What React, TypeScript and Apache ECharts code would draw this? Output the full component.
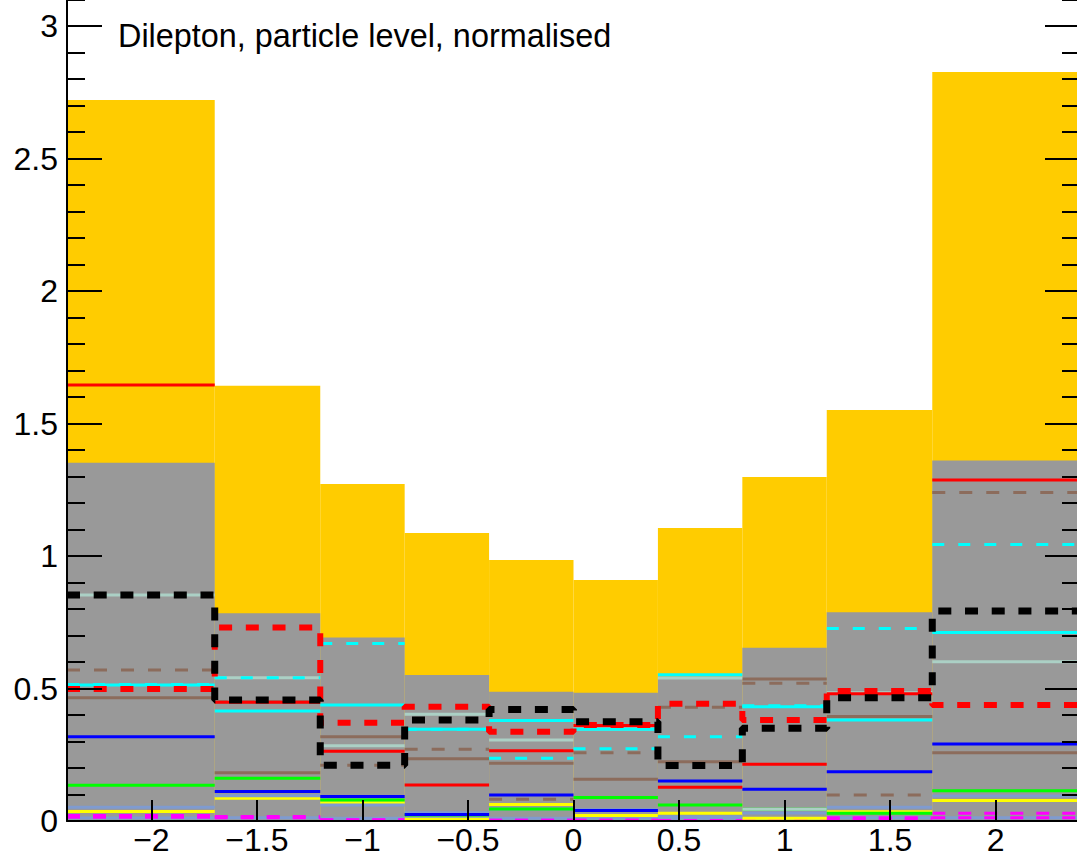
import React, { useEffect, useRef } from "react";
import * as echarts from "echarts";

// Bin edges (x)
const edges = [-2.4, -1.7, -1.2, -0.8, -0.4, 0, 0.4, 0.8, 1.2, 1.7, 2.4];

// Filled histograms
const orangeTotal = [2.721, 1.642, 1.272, 1.087, 0.985, 0.909, 1.106, 1.298, 1.551, 2.826];
const grayBand = [1.352, 0.784, 0.692, 0.551, 0.488, 0.484, 0.545, 0.654, 0.788, 1.36];

// Line histograms (one value per bin)
const redSolid = [1.645, 0.448, 0.263, 0.136, 0.265, 0.36, 0.127, 0.214, 0.48, 1.287];
const cyanSolid = [0.513, 0.415, 0.438, 0.346, 0.379, 0.346, 0.552, 0.431, 0.381, 0.711];
const cyanDashed = [0.515, 0.541, 0.67, 0.346, 0.237, 0.273, 0.318, 0.435, 0.726, 1.043];
const paleSolid = [0.853, 0.541, 0.284, 0.403, 0.306, 0.346, 0.54, 0.044, 0.484, 0.601];
const brownSolid = [0.465, 0.182, 0.318, 0.235, 0.218, 0.158, 0.224, 0.536, 0.394, 0.258];
const brownDashed = [0.57, 0.45, 0.21, 0.271, 0.082, 0.258, 0.429, 0.52, 0.098, 1.24];
const blueSolid = [0.318, 0.111, 0.092, 0.025, 0.098, 0.04, 0.151, 0.12, 0.186, 0.291];
const greenSolid = [0.135, 0.161, 0.079, 0.023, 0.045, 0.089, 0.06, 0.044, 0.029, 0.114];
const steelSolid = [0.052, 0.095, 0.06, 0.031, 0.045, 0.042, 0.016, 0.03, 0.052, 0.094];
const steelLow = [0.011, 0.012, 0.01, 0.01, 0.01, 0.01, 0.01, 0.01, 0.012, 0.012];
const yellowSolid = [0.036, 0.086, 0.069, 0.007, 0.062, 0.021, 0.029, 0.01, 0.035, 0.077];
const magentaDashedA = [0.021, 0.017, 0.005, 0.003, 0.003, 0.003, 0.002, 0.003, 0.012, 0.029];
const magentaDashedB = [0.014, 0.012, 0.004, 0.003, 0.003, 0.003, 0.002, 0.003, 0.008, 0.012];
const redDashed = [0.498, 0.73, 0.371, 0.431, 0.337, 0.362, 0.442, 0.381, 0.491, 0.438];
const blackDashed = [0.853, 0.457, 0.21, 0.381, 0.421, 0.375, 0.209, 0.35, 0.465, 0.792];

// Axis settings
const yMin = 0;
const yMax = 3.2;
const yInterval = 0.5;
const xMin = -2.4;
const xMax = 2.4;
const titleText = "Dilepton, particle level, normalised";

const FONT = "'Liberation Sans', Arial, Helvetica, sans-serif";

// The frame extends slightly beyond the visible picture (top and right)
const OFFSET_TOP = 27;
const CHART_W = 1080;
const CHART_H = 859 + OFFSET_TOP;

function rectSeries(name: string, values: number[], color: string) {
  return {
    type: "custom",
    name,
    silent: true,
    encode: { x: [0, 1], y: 2 },
    data: values.map((v, i) => [edges[i], edges[i + 1], v]),
    renderItem: (params: any, api: any) => {
      const a = api.coord([api.value(0), api.value(2)]);
      const b = api.coord([api.value(1), 0]);
      return {
        type: "rect",
        shape: { x: a[0], y: a[1], width: b[0] - a[0], height: b[1] - a[1] },
        style: { fill: color },
      };
    },
  };
}

function segSeries(name: string, values: number[], color: string, width: number, dash?: number[]) {
  return {
    type: "custom",
    name,
    silent: true,
    encode: { x: [0, 1], y: 2 },
    data: values.map((v, i) => [edges[i], edges[i + 1], v]),
    renderItem: (params: any, api: any) => {
      const a = api.coord([api.value(0), api.value(2)]);
      const b = api.coord([api.value(1), api.value(2)]);
      return {
        type: "line",
        shape: { x1: a[0], y1: a[1], x2: b[0], y2: b[1] },
        style: { stroke: color, lineWidth: width, lineDash: dash || null, fill: null },
      };
    },
  };
}

function stepSeries(name: string, values: number[], color: string, width: number, dash: number[]) {
  const data = values.map((v, i) => [edges[i], v]);
  data.push([edges[edges.length - 1], values[values.length - 1]]);
  return {
    type: "line",
    name,
    step: "end",
    silent: true,
    symbol: "none",
    data,
    lineStyle: { color, width, type: dash, cap: "butt" },
  };
}

export default function App() {
  const ref = useRef<HTMLDivElement>(null);
  useEffect(() => {
    if (!ref.current) return;
    const chart = echarts.init(ref.current, undefined, { renderer: "svg" });
    const axisCommon = {
      type: "value",
      min: yMin,
      max: yMax,
      interval: yInterval,
      z: 10,
      splitLine: { show: false },
      minorSplitLine: { show: false },
      axisTick: { show: true, inside: true, length: 35, lineStyle: { color: "#000", width: 2 } },
      minorTick: { show: true, splitNumber: 5, length: 18, lineStyle: { color: "#000", width: 2 } },
    };
    chart.setOption({
      animation: false,
      backgroundColor: "#ffffff",
      grid: { left: 67, right: 0, top: 0, bottom: CHART_H - OFFSET_TOP - 821 },
      xAxis: {
        type: "value",
        min: xMin,
        max: xMax,
        splitNumber: 10,
        minInterval: 0.5,
        maxInterval: 0.5,
        z: 10,
        splitLine: { show: false },
        axisLine: { show: true, onZero: false, lineStyle: { color: "#000", width: 2 } },
        axisTick: { show: true, inside: true, length: 21, lineStyle: { color: "#000", width: 2 } },
        minorTick: { show: false },
        axisLabel: {
          show: true,
          showMinLabel: false,
          showMaxLabel: false,
          color: "#000",
          fontSize: 32,
          lineHeight: 26,
          fontFamily: FONT,
          margin: 6,
          formatter: (v: number) => (v < 0 ? "\u2212" + String(-v) : String(v)),
        },
      },
      yAxis: [
        {
          ...axisCommon,
          position: "left",
          axisLine: { show: true, onZero: false, lineStyle: { color: "#000", width: 2 } },
          axisLabel: {
            show: true,
            showMaxLabel: false,
            color: "#000",
            fontSize: 32,
            fontFamily: FONT,
            margin: 9,
          },
        },
        {
          ...axisCommon,
          position: "right",
          axisLine: { show: false, onZero: false },
          axisLabel: { show: false },
        },
      ],
      graphic: [
        {
          type: "text",
          x: 118,
          y: 36 + OFFSET_TOP,
          z: 20,
          style: {
            text: titleText,
            fontSize: 32.4,
            fontFamily: FONT,
            fill: "#000",
            verticalAlign: "middle",
            align: "left",
          },
        },
      ],
      series: [
        rectSeries("total", orangeTotal, "#ffcc00"),
        rectSeries("band", grayBand, "#999999"),
        segSeries("steelLow", steelLow, "#7f9bd0", 3),
        segSeries("magentaB", magentaDashedB, "#ff00ff", 3, [13, 13]),
        segSeries("magentaA", magentaDashedA, "#ff00ff", 3, [13, 13]),
        segSeries("yellow", yellowSolid, "#ffff00", 3),
        segSeries("steel", steelSolid, "#7f9bd0", 3),
        segSeries("green", greenSolid, "#00ff00", 3),
        segSeries("blue", blueSolid, "#0000ff", 3),
        segSeries("brown", brownSolid, "#8c6c5c", 3),
        segSeries("brownDashed", brownDashed, "#8c6c5c", 3, [13, 14]),
        segSeries("pale", paleSolid, "#abd0c5", 3),
        segSeries("red", redSolid, "#ff0000", 3),
        segSeries("cyan", cyanSolid, "#00ffff", 3),
        segSeries("cyanDashed", cyanDashed, "#00ffff", 3, [12, 14]),
        stepSeries("redDashed", redDashed, "#ff0000", 6, [13, 13.7]),
        stepSeries("blackDashed", blackDashed, "#000000", 7, [13, 13.7]),
      ],
    });
    return () => chart.dispose();
  }, []);
  return (
    <div style={{ position: "fixed", left: 0, top: 0, width: 1077, height: 859, overflow: "hidden", background: "#fff" }}>
      <div
        ref={ref}
        style={{ position: "absolute", left: 0, top: -OFFSET_TOP, width: CHART_W, height: CHART_H }}
      />
    </div>
  );
}
